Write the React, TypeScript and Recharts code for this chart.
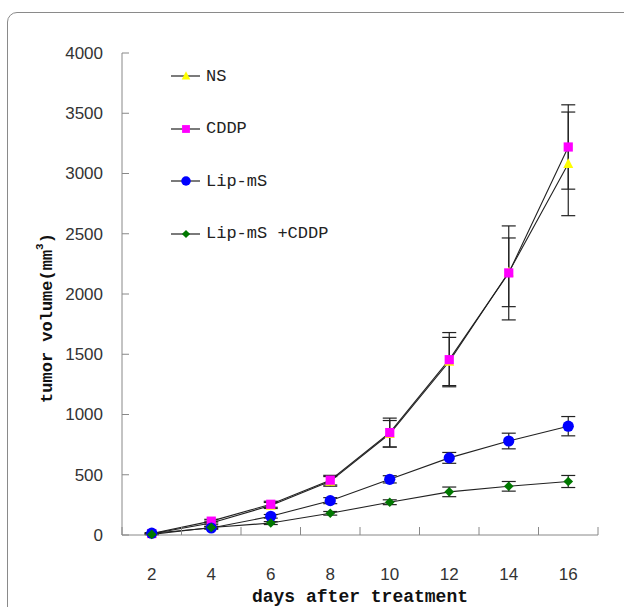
import { LineChart, Line, XAxis, YAxis, ErrorBar, Legend, Label } from "recharts";

const days = [2, 4, 6, 8, 10, 12, 14, 16];
const nsVolume = [10, 100, 245, 445, 840, 1440, 2180, 3080];
const nsError = [5, 15, 25, 40, 110, 200, 285, 430];
const cddpVolume = [12, 115, 255, 455, 850, 1455, 2175, 3220];
const cddpError = [5, 15, 25, 40, 120, 225, 390, 350];
const lipVolume = [15, 58, 155, 285, 462, 640, 780, 903];
const lipError = [5, 10, 15, 25, 30, 45, 65, 80];
const comboVolume = [5, 62, 99, 180, 272, 358, 404, 444];
const comboError = [3, 8, 12, 15, 20, 40, 40, 50];

const yTicks = [0, 500, 1000, 1500, 2000, 2500, 3000, 3500, 4000];
// tick marks sit between the day labels, like a category axis
const xTickMarks = [1, 3, 5, 7, 9, 11, 13, 15, 17];
const xTicks = [...xTickMarks, ...days].sort((a, b) => a - b);

const data = days.map((day, i) => ({
  day,
  ns: nsVolume[i],
  nsErr: nsError[i],
  cddp: cddpVolume[i],
  cddpErr: cddpError[i],
  lip: lipVolume[i],
  lipErr: lipError[i],
  combo: comboVolume[i],
  comboErr: comboError[i],
}));

type Shape = "triangle" | "square" | "circle" | "diamond";

const series: { key: string; name: string; color: string; shape: Shape }[] = [
  { key: "ns", name: "NS", color: "#ffff00", shape: "triangle" },
  { key: "cddp", name: "CDDP", color: "#ff00ff", shape: "square" },
  { key: "lip", name: "Lip-mS", color: "#0000ff", shape: "circle" },
  { key: "combo", name: "Lip-mS +CDDP", color: "#007800", shape: "diamond" },
];

function Marker({ cx, cy, color, shape, scale = 1 }: { cx: number; cy: number; color: string; shape: Shape; scale?: number }) {
  if (cx == null || cy == null) return null;
  if (shape === "triangle") {
    const s = 5 * scale;
    return <path d={`M${cx},${cy - s * 1.1} L${cx + s},${cy + s * 0.85} L${cx - s},${cy + s * 0.85} Z`} fill={color} />;
  }
  if (shape === "square") {
    const s = 4.6 * scale;
    return <rect x={cx - s} y={cy - s} width={s * 2} height={s * 2} fill={color} />;
  }
  if (shape === "circle") {
    return <circle cx={cx} cy={cy} r={5.6 * scale} fill={color} />;
  }
  const s = 4.8 * scale;
  return <path d={`M${cx},${cy - s} L${cx + s},${cy} L${cx},${cy + s} L${cx - s},${cy} Z`} fill={color} />;
}

const XTick = (props: any) => {
  const { x, y, payload } = props;
  const v = payload.value;
  if (xTickMarks.includes(v)) {
    return <line x1={x} y1={y} x2={x} y2={y - 8} stroke="#888" strokeWidth={1} />;
  }
  return (
    <text x={x} y={y + 45} textAnchor="middle" fill="#333" fontSize={17} fontFamily="Liberation Sans, Arial, sans-serif">
      {v}
    </text>
  );
};

const YTick = (props: any) => {
  const { x, y, payload } = props;
  return (
    <g>
      <line x1={x} y1={y} x2={x + 7} y2={y} stroke="#888" strokeWidth={1} />
      <text x={x - 19} y={y} dy="0.35em" textAnchor="end" fill="#333" fontSize={17} fontFamily="Liberation Sans, Arial, sans-serif">
        {payload.value}
      </text>
    </g>
  );
};

const LegendBox = () => (
  <div style={{ fontFamily: "Liberation Mono, monospace", fontSize: 17, color: "#222" }}>
    {series.map((s) => (
      <div key={s.key} style={{ display: "flex", alignItems: "center", height: 52.5, whiteSpace: "pre" }}>
        <svg width={30} height={20} style={{ display: "block" }}>
          <line x1={0} y1={10} x2={29} y2={10} stroke="#222" strokeWidth={1.2} />
          <Marker cx={15} cy={10} color={s.color} shape={s.shape} scale={0.85} />
        </svg>
        <span style={{ marginLeft: 5 }}>{s.name}</span>
      </div>
    ))}
  </div>
);

export default function App() {
  return (
    <div style={{ position: "fixed", left: 0, top: 0, width: 624, height: 607, overflow: "hidden", background: "#fff" }}>
      <div
        style={{
          position: "absolute",
          left: 7,
          top: 12,
          width: 700,
          height: 700,
          border: "1px solid #8a8a8a",
          borderTopLeftRadius: 10,
        }}
      />
      <div style={{ position: "absolute", left: 0, top: 0 }}>
        <LineChart width={624} height={607} data={data} margin={{ top: 53, right: 26, bottom: 0, left: 0 }}>
          <XAxis
            dataKey="day"
            type="number"
            domain={[1, 17]}
            ticks={xTicks}
            interval={0}
            tick={<XTick />}
            tickLine={false}
            tickSize={0}
            tickMargin={0}
            height={72}
            axisLine={{ stroke: "#888" }}
          >
            <Label
              value="days after treatment"
              position="insideBottom"
              offset={5}
              fill="#111"
              fontSize={18}
              fontWeight="bold"
              fontFamily="Liberation Mono, monospace"
            />
          </XAxis>
          <YAxis
            type="number"
            domain={[0, 4000]}
            ticks={yTicks}
            interval={0}
            tick={<YTick />}
            tickLine={false}
            tickSize={0}
            tickMargin={0}
            width={122}
            axisLine={{ stroke: "#888" }}
          >
            <Label
              content={() => (
                <text
                  transform="translate(47, 318) rotate(-90)"
                  textAnchor="middle"
                  dominantBaseline="central"
                  fill="#111"
                  fontSize={17}
                  fontWeight="bold"
                  fontFamily="Liberation Mono, monospace"
                >
                  tumor volume(mm<tspan dy={-7} fontSize={11}>3</tspan>
                  <tspan dy={7}>)</tspan>
                </text>
              )}
            />
          </YAxis>
          <Legend
            layout="vertical"
            align="center"
            verticalAlign="middle"
            wrapperStyle={{ top: 50, left: 171, width: 240 }}
            content={<LegendBox />}
          />
          {series.map((s) => (
            <Line
              key={s.key}
              dataKey={s.key}
              name={s.name}
              type="linear"
              stroke="#222"
              strokeWidth={1.1}
              isAnimationActive={false}
              dot={(p: any) => <Marker key={`${s.key}-${p.index}`} cx={p.cx} cy={p.cy} color={s.color} shape={s.shape} />}
              activeDot={false}
            >
              <ErrorBar dataKey={`${s.key}Err`} width={7} stroke="#222" strokeWidth={1.2} direction="y" />
            </Line>
          ))}
        </LineChart>
      </div>
    </div>
  );
}
